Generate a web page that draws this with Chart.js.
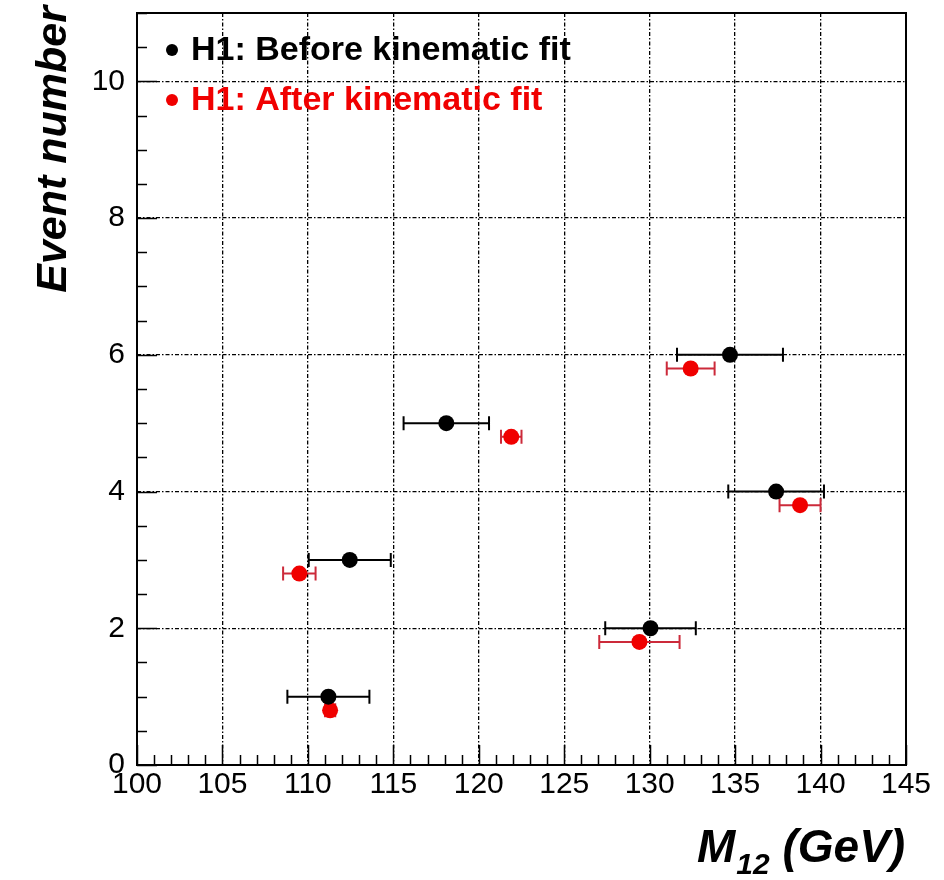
<!DOCTYPE html>
<html><head><meta charset="utf-8">
<script src="https://cdn.jsdelivr.net/npm/chart.js@4.4.1/dist/chart.umd.min.js"></script>
<style>html,body{margin:0;padding:0;background:#fff;}#wrap{width:944px;height:880px;position:relative;}</style>
</head><body><div id="wrap"><canvas id="c" width="944" height="880"></canvas></div>
<script>
// ---- data ----
const beforeLabel = "H1: Before kinematic fit";
const afterLabel = "H1: After kinematic fit";
const beforeEvent = [1, 2, 3, 4, 5, 6];
const beforeMass = [111.2, 130.05, 112.45, 137.4, 118.1, 134.7];
const beforeErr = [2.4, 2.65, 2.4, 2.8, 2.5, 3.1];
const afterEvent = [0.8, 1.8, 2.8, 3.8, 4.8, 5.8];
const afterMass = [111.3, 129.4, 109.5, 138.8, 121.9, 132.4];
const afterErr = [0.3, 2.35, 0.95, 1.2, 0.6, 1.4];
const xTickLabels = [100, 105, 110, 115, 120, 125, 130, 135, 140, 145];
const yTickLabels = [0, 2, 4, 6, 8, 10];
const xTitleMain = "M";
const xTitleSub = "12";
const xTitleUnit = " (GeV)";
const yTitle = "Event number";

const FONT = "'Liberation Sans', Arial, Helvetica, sans-serif";
const BLACK = "#000000";
const RED = "#f00000";
const RED_BAR = "#cc2a3a";

function toPoints(xs, ys) { return xs.map((x, i) => ({ x: x, y: ys[i] })); }

const errorBars = {
  id: 'errorBars',
  beforeDatasetsDraw(chart) {
    const ctx = chart.ctx, xs = chart.scales.x, ys = chart.scales.y;
    chart.data.datasets.forEach(ds => {
      ctx.save();
      ctx.strokeStyle = ds.barColor; ctx.lineWidth = 2;
      ds.data.forEach((p, i) => {
        const e = ds.xErr[i];
        const x1 = xs.getPixelForValue(p.x - e), x2 = xs.getPixelForValue(p.x + e);
        const y = ys.getPixelForValue(p.y);
        ctx.beginPath();
        ctx.moveTo(x1, y); ctx.lineTo(x2, y);
        ctx.moveTo(x1, y - 7); ctx.lineTo(x1, y + 7);
        ctx.moveTo(x2, y - 7); ctx.lineTo(x2, y + 7);
        ctx.stroke();
      });
      ctx.restore();
    });
  }
};

const frameAndText = {
  id: 'frameAndText',
  afterDraw(chart) {
    const ctx = chart.ctx, a = chart.chartArea, xs = chart.scales.x, ys = chart.scales.y;
    ctx.save();
    // ticks
    ctx.strokeStyle = BLACK; ctx.lineWidth = 1.5;
    ctx.beginPath();
    for (let v = xs.min; v <= xs.max + 1e-9; v += 1) {
      const px = Math.round(xs.getPixelForValue(v)) + 0.5;
      const len = (Math.round(v) % 5 === 0) ? 20 : 10;
      ctx.moveTo(px, a.bottom); ctx.lineTo(px, a.bottom - len);
    }
    for (let v = ys.min; v <= ys.max + 1e-9; v += 0.5) {
      const py = Math.round(ys.getPixelForValue(v)) + 0.5;
      const len = (Math.abs(v % 2) < 1e-9) ? 20 : 10;
      ctx.moveTo(a.left, py); ctx.lineTo(a.left + len, py);
    }
    ctx.stroke();
    // frame
    ctx.lineWidth = 2;
    ctx.strokeRect(a.left, a.top, a.right - a.left, a.bottom - a.top);
    // legend
    const items = chart.data.datasets.map(ds => ({ label: ds.label, color: ds.backgroundColor, text: ds.textColor }));
    ctx.font = "bold 34px " + FONT;
    ctx.textBaseline = 'middle'; ctx.textAlign = 'left';
    items.forEach((it, i) => {
      const cy = 50 + i * 50;
      ctx.fillStyle = it.color;
      ctx.beginPath(); ctx.arc(172, cy, 6, 0, Math.PI * 2); ctx.fill();
      ctx.fillStyle = it.text;
      ctx.fillText(it.label, 191, cy + 1);
    });
    // y title
    ctx.fillStyle = BLACK;
    ctx.save();
    ctx.translate(66, 6);
    ctx.rotate(-Math.PI / 2);
    ctx.font = "italic bold 43px " + FONT;
    ctx.textAlign = 'right'; ctx.textBaseline = 'alphabetic';
    ctx.fillText(yTitle, 0, 0);
    ctx.restore();
    // x title
    ctx.textAlign = 'left'; ctx.textBaseline = 'alphabetic';
    let x0 = 697; const base = 862;
    ctx.font = "italic bold 46px " + FONT;
    ctx.fillText(xTitleMain, x0, base);
    x0 += ctx.measureText(xTitleMain).width + 1;
    ctx.font = "italic bold 30px " + FONT;
    ctx.fillText(xTitleSub, x0, base + 12);
    x0 += ctx.measureText(xTitleSub).width;
    ctx.font = "italic bold 46px " + FONT;
    ctx.fillText(xTitleUnit, x0, base);
    ctx.restore();
  }
};

new Chart(document.getElementById('c'), {
  type: 'scatter',
  data: {
    datasets: [
      { label: beforeLabel, data: toPoints(beforeMass, beforeEvent), xErr: beforeErr,
        backgroundColor: BLACK, borderColor: BLACK, barColor: BLACK, textColor: BLACK,
        pointRadius: 8, pointHoverRadius: 8, borderWidth: 0 },
      { label: afterLabel, data: toPoints(afterMass, afterEvent), xErr: afterErr,
        backgroundColor: RED, borderColor: RED, barColor: RED_BAR, textColor: RED,
        pointRadius: 8, pointHoverRadius: 8, borderWidth: 0 }
    ]
  },
  options: {
    responsive: false, animation: false, devicePixelRatio: 1,
    layout: { padding: { left: 0, top: 13, right: 38, bottom: 0 } },
    plugins: { legend: { display: false }, tooltip: { enabled: false } },
    scales: {
      x: {
        type: 'linear', min: 100, max: 145,
        afterFit(s) { s.height = 115; s.paddingLeft = 0; s.paddingRight = 0; },
        afterBuildTicks(s) { s.ticks = xTickLabels.map(v => ({ value: v })); },
        ticks: { autoSkip: false, maxRotation: 0, padding: 2, color: BLACK,
          font: { family: FONT, size: 30 }, callback: v => String(v) },
        grid: { color: BLACK, lineWidth: 1.3, drawTicks: false },
        border: { display: false, dash: [4, 2, 1.5, 2] }
      },
      y: {
        type: 'linear', min: 0, max: 11,
        afterFit(s) { s.width = 137; s.paddingTop = 0; s.paddingBottom = 0; },
        afterBuildTicks(s) { s.ticks = yTickLabels.map(v => ({ value: v })); },
        ticks: { autoSkip: false, padding: 12, color: BLACK,
          font: { family: FONT, size: 30 }, callback: v => String(v) },
        grid: { color: BLACK, lineWidth: 1.3, drawTicks: false },
        border: { display: false, dash: [4, 2, 1.5, 2] }
      }
    }
  },
  plugins: [errorBars, frameAndText]
});
</script></body></html>
